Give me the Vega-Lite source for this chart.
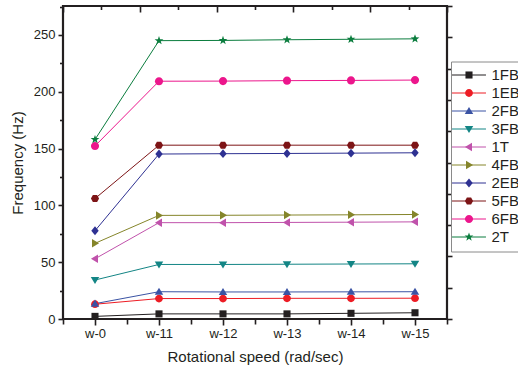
{
  "$schema": "https://vega.github.io/schema/vega-lite/v6.json",
  "width": 384,
  "height": 313,
  "autosize": {"type": "none"},
  "padding": {"left": 63, "top": 6, "right": 71, "bottom": 50},
  "background": "white",
  "config": {
    "view": {"stroke": "#231f20", "strokeWidth": 2.2},
    "font": "Liberation Sans",
    "axis": {
      "labelFont": "Liberation Sans",
      "titleFont": "Liberation Sans",
      "labelColor": "#231f20",
      "titleColor": "#231f20",
      "tickColor": "#231f20",
      "domain": false,
      "grid": false,
      "tickWidth": 1.6,
      "titleFontWeight": "normal",
      "labelFontSize": 13,
      "titleFontSize": 15
    }
  },
  "data": {
    "values": [
      {"speed": "w-0", "mode": "1FB", "freq": 2.3},
      {"speed": "w-11", "mode": "1FB", "freq": 4.5},
      {"speed": "w-12", "mode": "1FB", "freq": 4.5},
      {"speed": "w-13", "mode": "1FB", "freq": 4.5},
      {"speed": "w-14", "mode": "1FB", "freq": 5},
      {"speed": "w-15", "mode": "1FB", "freq": 5.5},
      {"speed": "w-0", "mode": "1EB", "freq": 13},
      {"speed": "w-11", "mode": "1EB", "freq": 18},
      {"speed": "w-12", "mode": "1EB", "freq": 18},
      {"speed": "w-13", "mode": "1EB", "freq": 18.2},
      {"speed": "w-14", "mode": "1EB", "freq": 18.2},
      {"speed": "w-15", "mode": "1EB", "freq": 18.3},
      {"speed": "w-0", "mode": "2FB", "freq": 13.5},
      {"speed": "w-11", "mode": "2FB", "freq": 24},
      {"speed": "w-12", "mode": "2FB", "freq": 23.8},
      {"speed": "w-13", "mode": "2FB", "freq": 23.8},
      {"speed": "w-14", "mode": "2FB", "freq": 23.9},
      {"speed": "w-15", "mode": "2FB", "freq": 24},
      {"speed": "w-0", "mode": "3FB", "freq": 34.3},
      {"speed": "w-11", "mode": "3FB", "freq": 48},
      {"speed": "w-12", "mode": "3FB", "freq": 48},
      {"speed": "w-13", "mode": "3FB", "freq": 48.2},
      {"speed": "w-14", "mode": "3FB", "freq": 48.4},
      {"speed": "w-15", "mode": "3FB", "freq": 48.6},
      {"speed": "w-0", "mode": "1T", "freq": 53},
      {"speed": "w-11", "mode": "1T", "freq": 84.8},
      {"speed": "w-12", "mode": "1T", "freq": 84.8},
      {"speed": "w-13", "mode": "1T", "freq": 85},
      {"speed": "w-14", "mode": "1T", "freq": 85.2},
      {"speed": "w-15", "mode": "1T", "freq": 85.5},
      {"speed": "w-0", "mode": "4FB", "freq": 66.6},
      {"speed": "w-11", "mode": "4FB", "freq": 91.2},
      {"speed": "w-12", "mode": "4FB", "freq": 91.3},
      {"speed": "w-13", "mode": "4FB", "freq": 91.5},
      {"speed": "w-14", "mode": "4FB", "freq": 91.7},
      {"speed": "w-15", "mode": "4FB", "freq": 92},
      {"speed": "w-0", "mode": "2EB", "freq": 77.7},
      {"speed": "w-11", "mode": "2EB", "freq": 145.2},
      {"speed": "w-12", "mode": "2EB", "freq": 145.5},
      {"speed": "w-13", "mode": "2EB", "freq": 145.7},
      {"speed": "w-14", "mode": "2EB", "freq": 146},
      {"speed": "w-15", "mode": "2EB", "freq": 146.3},
      {"speed": "w-0", "mode": "5FB", "freq": 106},
      {"speed": "w-11", "mode": "5FB", "freq": 153},
      {"speed": "w-12", "mode": "5FB", "freq": 153},
      {"speed": "w-13", "mode": "5FB", "freq": 153},
      {"speed": "w-14", "mode": "5FB", "freq": 153},
      {"speed": "w-15", "mode": "5FB", "freq": 153},
      {"speed": "w-0", "mode": "6FB", "freq": 152.3},
      {"speed": "w-11", "mode": "6FB", "freq": 209.3},
      {"speed": "w-12", "mode": "6FB", "freq": 209.4},
      {"speed": "w-13", "mode": "6FB", "freq": 209.8},
      {"speed": "w-14", "mode": "6FB", "freq": 210},
      {"speed": "w-15", "mode": "6FB", "freq": 210.3},
      {"speed": "w-0", "mode": "2T", "freq": 158},
      {"speed": "w-11", "mode": "2T", "freq": 245},
      {"speed": "w-12", "mode": "2T", "freq": 245.2},
      {"speed": "w-13", "mode": "2T", "freq": 245.8},
      {"speed": "w-14", "mode": "2T", "freq": 246.2},
      {"speed": "w-15", "mode": "2T", "freq": 246.6}
    ]
  },
  "layer": [
    {
      "encoding": {
        "x": {
          "field": "speed",
          "type": "ordinal",
          "sort": null,
          "scale": {"type": "point", "padding": 0.5},
          "axis": {"ticks": false, "tickSize": 0, "labelPadding": 8, "labelAngle": 0, "title": "Rotational speed (rad/sec)", "titlePadding": 9}
        },
        "y": {
          "field": "freq",
          "type": "quantitative",
          "scale": {"domain": [0, 275.5], "nice": false},
          "axis": {
            "values": [0, 25, 50, 75, 100, 125, 150, 175, 200, 225, 250, 275],
            "labelExpr": "datum.value % 50 == 0 ? datum.label : ''",
            "tickSize": {"condition": {"test": "datum.value % 50 != 0", "value": 3.5}, "value": 5},
            "labelPadding": 3,
            "title": "Frequency (Hz)",
            "titlePadding": 8
          }
        }
      },
      "layer": [
        {
          "mark": {"type": "line", "strokeWidth": 1},
          "encoding": {
            "color": {
              "field": "mode",
              "type": "nominal",
              "scale": {
                "domain": ["1FB", "1EB", "2FB", "3FB", "1T", "4FB", "2EB", "5FB", "6FB", "2T"],
                "range": ["#231f20", "#ed1c24", "#3a53a4", "#138585", "#c052ab", "#85852a", "#2e3192", "#7d1416", "#ec168c", "#0b7d3e"]
              },
              "legend": {
                "orient": "none",
                "legendX": 388,
                "legendY": 55.5,
                "title": null,
                "strokeColor": "#8a8a8a",
                "fillColor": "white",
                "padding": 6,
                "labelFont": "Liberation Sans",
                "labelFontSize": 15,
                "labelColor": "#231f20",
                "symbolType": "M-4.8,0H4.8",
                "symbolSize": 50,
                "symbolStrokeWidth": 1,
                "rowPadding": 2,
                "labelOffset": 15,
                "symbolOffset": 4.5
              }
            }
          }
        },
        {
          "mark": {"type": "point", "filled": true, "size": 50, "opacity": 1},
          "encoding": {
            "fill": {
              "field": "mode",
              "type": "nominal",
              "sort": null,
              "scale": {
                "range": ["#231f20", "#ed1c24", "#3a53a4", "#138585", "#c052ab", "#85852a", "#2e3192", "#7d1416", "#ec168c", "#0b7d3e"]
              },
              "legend": {
                "orient": "none",
                "legendX": 388,
                "legendY": 55.5,
                "title": null,
                "strokeColor": "transparent",
                "fillColor": "transparent",
                "padding": 6,
                "labelFont": "Liberation Sans",
                "labelFontSize": 15,
                "labelOpacity": 0,
                "symbolSize": 50,
                "symbolStrokeWidth": 0,
                "symbolOpacity": 1,
                "rowPadding": 2,
                "labelOffset": 15,
                "symbolOffset": 4.5
              }
            },
            "shape": {
              "field": "mode",
              "type": "nominal",
              "sort": null,
              "scale": {
                "range": [
                  "M-1,-1H1V1H-1Z",
                  "M-1.1,0A1.1,1.1,0,1,1,1.1,0A1.1,1.1,0,1,1,-1.1,0Z",
                  "M0,-1.15L1.2,0.85H-1.2Z",
                  "M0,1.15L1.2,-0.85H-1.2Z",
                  "M-1.15,0L0.85,-1.2V1.2Z",
                  "M1.15,0L-0.85,-1.2V1.2Z",
                  "M0,-1.25L1.05,0L0,1.25L-1.05,0Z",
                  "M-0.6,-1H0.6L1.15,0L0.6,1H-0.6L-1.15,0Z",
                  "M-1.15,0A1.15,1.15,0,1,1,1.15,0A1.15,1.15,0,1,1,-1.15,0Z",
                  "M0,-1.3L0.31,-0.42L1.24,-0.4L0.5,0.16L0.76,1.05L0,0.52L-0.76,1.05L-0.5,0.16L-1.24,-0.4L-0.31,-0.42Z"
                ]
              },
              "legend": {
                "orient": "none",
                "legendX": 388,
                "legendY": 55.5,
                "title": null,
                "strokeColor": "transparent",
                "fillColor": "transparent",
                "padding": 6,
                "labelFont": "Liberation Sans",
                "labelFontSize": 15,
                "labelOpacity": 0,
                "symbolSize": 50,
                "symbolStrokeWidth": 0,
                "symbolOpacity": 1,
                "rowPadding": 2,
                "labelOffset": 15,
                "symbolOffset": 4.5
              }
            }
          }
        }
      ]
    },
    {
      "data": {"values": [{"k": 0}]},
      "mark": {"type": "rule", "opacity": 0},
      "encoding": {
        "x": {
          "datum": 0,
          "type": "quantitative",
          "scale": {"domain": [0, 12], "nice": false, "zero": false},
          "axis": {
            "orient": "bottom",
            "values": [0, 1, 2, 3, 4, 5, 6, 7, 8, 9, 10, 11, 12],
            "labels": false,
            "title": null,
            "tickSize": {"condition": {"test": "datum.value % 2 == 1", "value": 6}, "value": 5}
          }
        },
        "y": {
          "datum": 0,
          "type": "quantitative",
          "scale": {"domain": [0, 275.5], "nice": false},
          "axis": {
            "orient": "right",
            "values": [0, 27.55, 55.1, 82.65, 110.2, 137.75, 165.3, 192.85, 220.4, 247.95, 275.5],
            "labels": false,
            "title": null,
            "tickSize": 5
          }
        }
      }
    },
    {
      "data": {"values": [{"k": 0}]},
      "mark": {"type": "rule", "opacity": 0},
      "encoding": {
        "x": {
          "datum": 0,
          "type": "quantitative",
          "scale": {"domain": [0, 10], "nice": false, "zero": false},
          "axis": {
            "orient": "top",
            "values": [0, 1, 2, 3, 4, 5, 6, 7, 8, 9, 10],
            "labels": false,
            "title": null,
            "tickSize": {"condition": {"test": "datum.value % 2 == 0", "value": -6}, "value": -3.5}
          }
        }
      }
    }
  ],
  "resolve": {"scale": {"x": "independent"}, "axis": {"x": "independent", "y": "independent"}}
}
